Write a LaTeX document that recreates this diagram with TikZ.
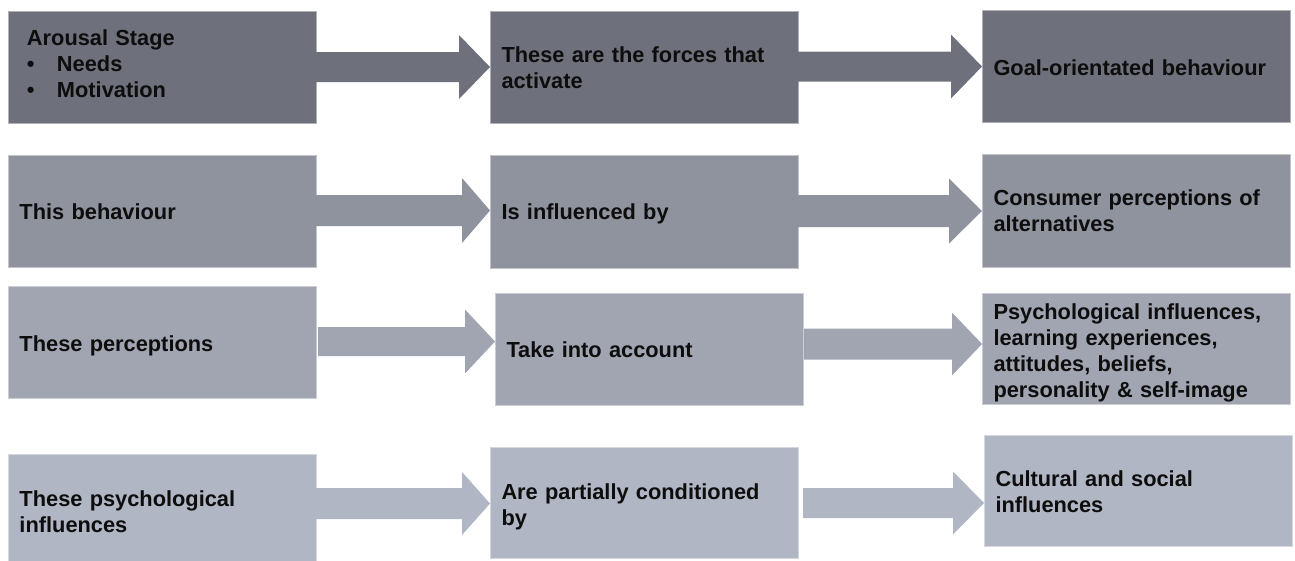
\documentclass[tikz,border=0pt]{standalone}
\usepackage{fontspec}
\setmainfont{Liberation Sans}
\usetikzlibrary{calc}

\definecolor{rowone}{HTML}{6E717B}
\definecolor{rowtwo}{HTML}{8F939E}
\definecolor{rowthree}{HTML}{A0A5B1}
\definecolor{rowfour}{HTML}{B0B6C3}
\definecolor{ink}{HTML}{0D0D0D}

% invisible struts that set the height of a first line / depth of a last line
\newcommand\tallstrut[1]{\rule{0pt}{#1pt}}
\newcommand\deepstrut[1]{\rule[-#1pt]{0pt}{#1pt}}

% block arrow: #1 fill, #2 from node, #3 to node, #4 centre y,
% #5 shaft half width, #6 head half width, #7 head length, #8 gap at start
\newcommand\blockarrow[8]{%
  \fill[#1]
    ($(#2.east |- 0,#4)+(#8,-#5)$) --
    ($(#3.west |- 0,#4)+(-#7,-#5)$) --
    ($(#3.west |- 0,#4)+(-#7,-#6)$) --
    (#3.west |- 0,#4) --
    ($(#3.west |- 0,#4)+(-#7,#6)$) --
    ($(#3.west |- 0,#4)+(-#7,#5)$) --
    ($(#2.east |- 0,#4)+(#8,#5)$) -- cycle;}

\begin{document}
\begin{tikzpicture}[x=1pt,y=-1pt,
  stagebox/.style={rectangle, fill=#1, draw=#1!55!white, line width=0.6pt,
    anchor=north west, outer sep=0pt, inner xsep=11.5pt, inner ysep=0pt,
    minimum width=308pt, text width=285pt, align=left, text=ink,
    font=\bfseries\fontsize{21.8}{26}\selectfont}]
\useasboundingbox (0,0) rectangle (1295,560);

% row 1
\node[stagebox=rowone, minimum height=112pt] (arousal) at (8,11)
  {\hspace*{7.5pt}Arousal Stage\\
   \hspace*{7.5pt}\makebox[30pt][l]{\textbullet}Needs\\
   \hspace*{7.5pt}\makebox[30pt][l]{\textbullet}Motivation\deepstrut{6}};
\node[stagebox=rowone, minimum height=112pt] (forces) at (490,11)
  {\tallstrut{18}These are the forces that\\activate};
\node[stagebox=rowone, minimum height=112pt] (goal) at (982,10)
  {\tallstrut{20}Goal-orientated behaviour};

% row 2
\node[stagebox=rowtwo, minimum height=112pt] (behaviour) at (8,155)
  {\tallstrut{18}This behaviour};
\node[stagebox=rowtwo, minimum height=113pt] (influenced) at (490,155)
  {\tallstrut{20}Is influenced by};
\node[stagebox=rowtwo, minimum height=113pt] (consumer) at (982,154)
  {Consumer perceptions of\\alternatives};

% row 3
\node[stagebox=rowthree, minimum height=112pt] (perceptions) at (8,286)
  {\tallstrut{24}These perceptions};
\node[stagebox=rowthree, minimum height=112pt] (account) at (495,293)
  {\tallstrut{18}Take into account};
\node[stagebox=rowthree, minimum height=111pt] (psych) at (982,293)
  {\tallstrut{24}Psychological influences,\\learning experiences,\\attitudes, beliefs,\\personality \& self-image};

% row 4
\node[stagebox=rowfour, minimum height=108pt] (psychinf) at (8,454)
  {\tallstrut{24}These psychological\\influences};
\node[stagebox=rowfour, minimum height=111pt] (conditioned) at (490,447)
  {\tallstrut{24}Are partially conditioned\\by};
\node[stagebox=rowfour, minimum height=111pt] (cultural) at (984,435)
  {\tallstrut{18}Cultural and social\\influences};

% connectors
\blockarrow{rowone}{arousal}{forces}{67}{15}{32}{31}{0}
\blockarrow{rowone}{forces}{goal}{66.5}{15}{32}{31}{0}
\blockarrow{rowtwo}{behaviour}{influenced}{210.5}{15.5}{32.5}{28}{0}
\blockarrow{rowtwo}{influenced}{consumer}{211}{16}{32.5}{33}{0}
\blockarrow{rowthree}{perceptions}{account}{341.5}{14.5}{32}{30}{2}
\blockarrow{rowthree}{account}{psych}{344}{15.5}{31.5}{30}{1}
\blockarrow{rowfour}{psychinf}{conditioned}{503.5}{15.5}{31.5}{28}{0}
\blockarrow{rowfour}{conditioned}{cultural}{503}{15}{31.5}{31}{5}
\end{tikzpicture}
\end{document}
